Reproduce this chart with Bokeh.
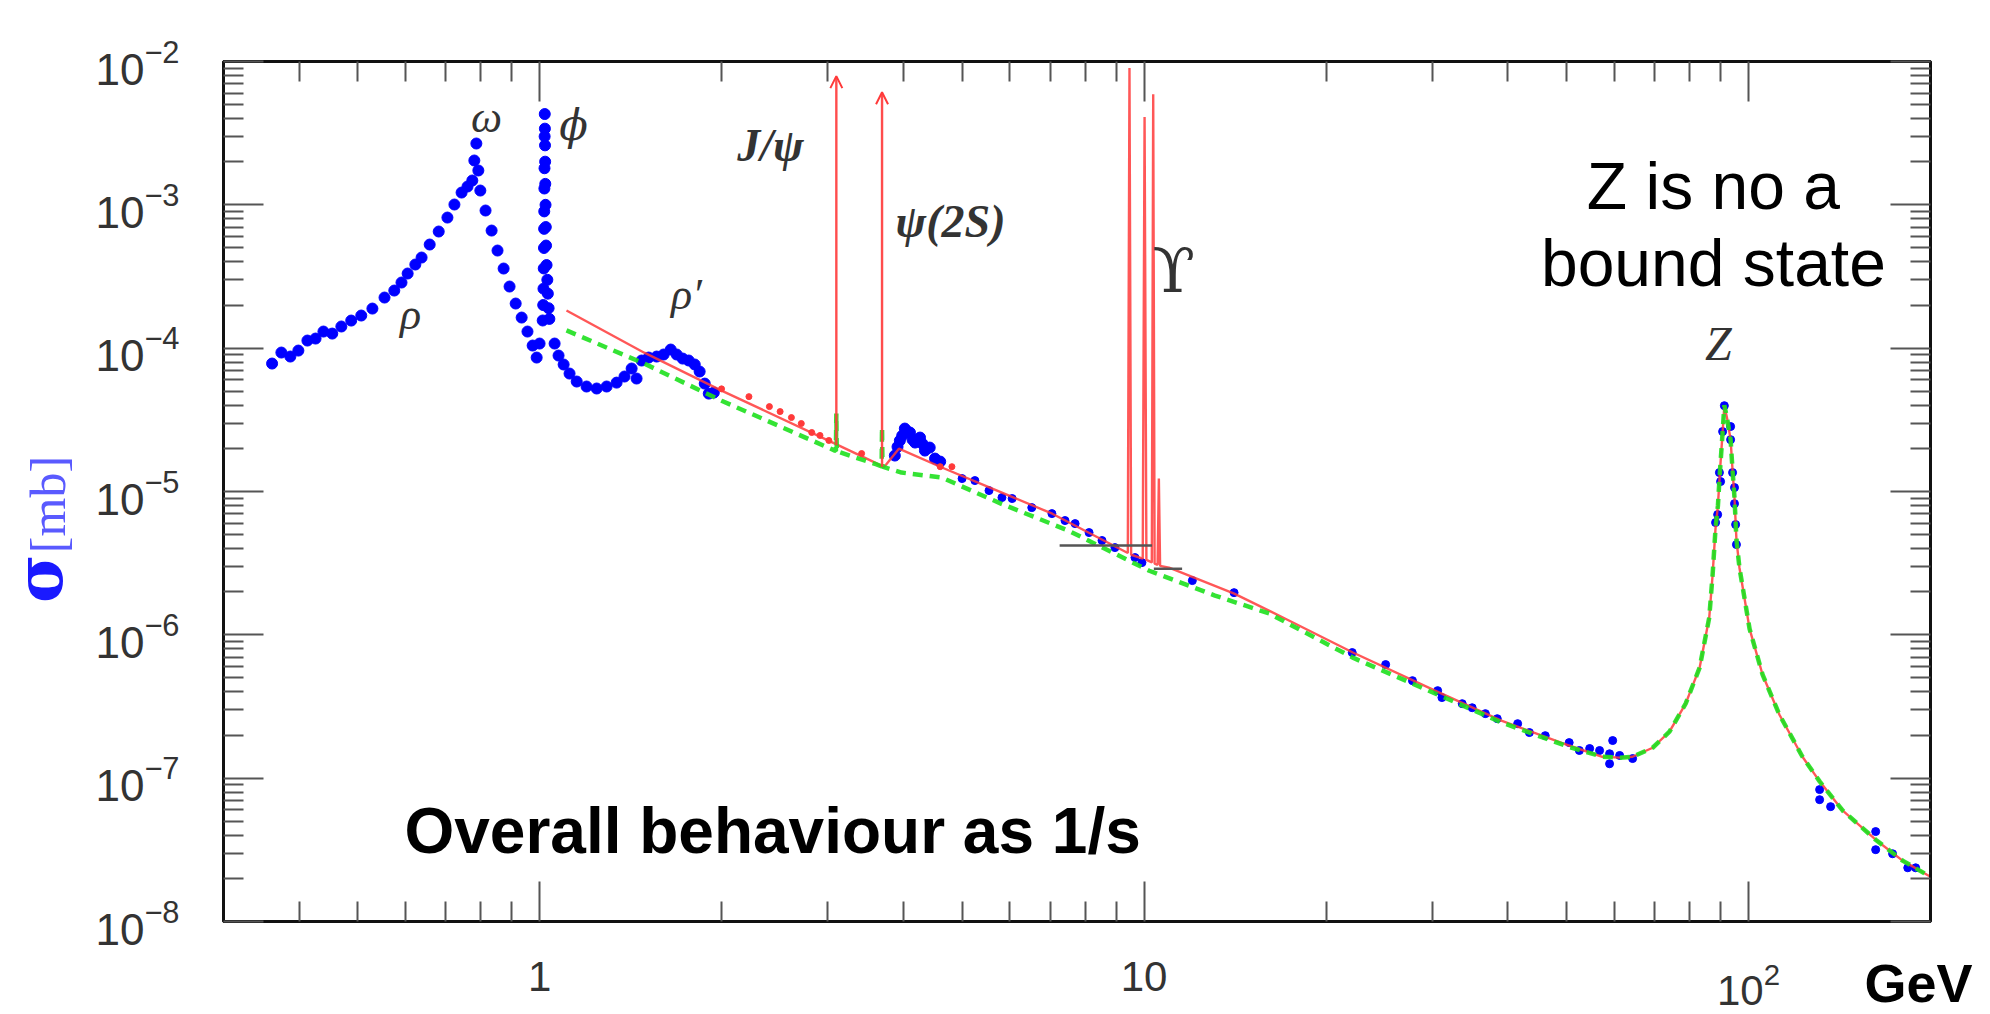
import math
from bokeh.plotting import figure
from bokeh.models import (LogAxis, FixedTicker, LogTickFormatter, CustomJSTickFormatter,
                          Label, Arrow, OpenHead, ColumnDataSource, Range1d)
from bokeh.embed import file_html
from bokeh.resources import INLINE

# ---------------- data (E in GeV, sigma in mb) ----------------
# measured points, low-mass region (rho / omega / phi / rho')
blue_low_E = [0.361, 0.374, 0.387, 0.399, 0.413, 0.426, 0.439, 0.454, 0.470, 0.488,
              0.507, 0.529, 0.554, 0.575, 0.591, 0.605, 0.623, 0.638, 0.658, 0.681,
              0.704, 0.723, 0.743, 0.760, 0.774, 0.780, 0.786, 0.792, 0.798, 0.814,
              0.833, 0.852, 0.872, 0.892, 0.913, 0.934, 0.955, 0.974, 0.989, 1.000,
              1.012, 1.014, 1.015, 1.016, 1.017, 1.0175, 1.018, 1.0185, 1.019, 1.0195,
              1.020, 1.0205, 1.021, 1.0215, 1.022, 1.023, 1.024, 1.025, 1.027, 1.030,
              1.032, 1.035, 1.038, 1.059, 1.075, 1.096, 1.121, 1.152, 1.196, 1.243,
              1.291, 1.341, 1.382, 1.420, 1.447, 1.475, 1.515, 1.562, 1.604, 1.648,
              1.686, 1.725, 1.765, 1.806, 1.840, 1.876, 1.905, 1.942]
blue_low_sig = [7.81e-5, 9.32e-5, 8.74e-5, 9.62e-5, 1.130e-4, 1.167e-4, 1.306e-4, 1.264e-4, 1.416e-4, 1.558e-4,
                1.689e-4, 1.889e-4, 2.255e-4, 2.523e-4, 2.870e-4, 3.317e-4, 3.833e-4, 4.288e-4, 5.284e-4, 6.513e-4,
                8.151e-4, 1.005e-3, 1.218e-3, 1.342e-3, 1.478e-3, 2.038e-3, 2.678e-3, 1.736e-3, 1.258e-3, 9.127e-4,
                6.615e-4, 4.799e-4, 3.594e-4, 2.691e-4, 2.048e-4, 1.635e-4, 1.306e-4, 1.043e-4, 8.60e-5, 1.077e-4,
                1.56e-4, 2.0e-4, 2.6e-4, 3.6e-4, 5.0e-4, 6.8e-4, 9.0e-4, 1.3e-3, 1.8e-3, 3.0e-3,
                4.3e-3, 3.4e-3, 2.6e-3, 2.0e-3, 1.4e-3, 1.0e-3, 7.0e-4, 5.2e-4, 3.8e-4, 3.0e-4,
                2.4e-4, 1.9e-4, 1.6e-4, 1.077e-4, 8.88e-5, 7.69e-5, 6.65e-5, 5.85e-5, 5.40e-5, 5.23e-5,
                5.40e-5, 5.75e-5, 6.34e-5, 7.21e-5, 6.14e-5, 8.20e-5, 8.60e-5, 8.74e-5, 9.03e-5, 9.78e-5,
                9.03e-5, 8.46e-5, 8.20e-5, 7.69e-5, 6.87e-5, 5.66e-5, 4.82e-5, 4.90e-5]

# measured points, open-charm region
blue_charm_E = [3.87, 3.91, 3.945, 3.98, 4.02, 4.06, 4.10, 4.14, 4.18, 4.22, 4.26, 4.30, 4.34, 4.42, 4.51, 4.60]
blue_charm_sig = [1.781e-5, 2.05e-5, 2.266e-5, 2.45e-5, 2.748e-5, 2.62e-5, 2.577e-5, 2.30e-5, 2.195e-5, 2.25e-5,
                  2.378e-5, 2.15e-5, 1.930e-5, 2.025e-5, 1.697e-5, 1.617e-5]

# measured points, continuum 5-65 GeV
blue_high_E = [5.0, 5.25, 5.54, 5.82, 6.05, 6.52, 7.04, 7.40, 7.69, 8.11, 8.52, 8.95, 9.66, 9.92,
               12.02, 14.09, 22.1, 25.1, 27.8, 30.6, 31.1, 33.6, 34.9, 36.7, 38.4, 41.5, 43.4, 46.1,
               50.5, 52.5, 54.6, 56.7, 58.9, 59.6, 58.9, 61.2, 64.3]
blue_high_sig = [1.231e-5, 1.192e-5, 1.015e-5, 9.07e-6, 8.93e-6, 7.72e-6, 7.01e-6, 6.27e-6, 5.97e-6, 5.17e-6,
                 4.55e-6, 4.06e-6, 3.46e-6, 3.19e-6, 2.39e-6, 1.97e-6, 7.52e-7, 6.20e-7, 4.79e-7, 4.08e-7,
                 3.65e-7, 3.31e-7, 3.10e-7, 2.82e-7, 2.60e-7, 2.40e-7, 2.08e-7, 1.98e-7, 1.77e-7, 1.56e-7,
                 1.61e-7, 1.56e-7, 1.48e-7, 1.83e-7, 1.26e-7, 1.44e-7, 1.37e-7]

# measured points, Z region
blue_z_E = [88.2, 88.9, 89.5, 89.9, 90.6, 91.2, 93.4, 93.4, 94.1, 94.8, 94.8, 95.2, 95.5,
            131.1, 131.1, 136.7, 162.3, 162.3, 173.1, 183.4, 189.0]
blue_z_sig = [6.07e-6, 6.9e-6, 1.355e-5, 1.173e-5, 2.62e-5, 3.97e-5, 2.84e-5, 2.30e-5, 1.355e-5, 1.065e-5,
              8.23e-6, 5.88e-6, 4.26e-6, 8.32e-8, 7.08e-8, 6.33e-8, 4.24e-8, 3.17e-8, 2.97e-8, 2.37e-8, 2.37e-8]

# red points 2-5 GeV
red_dot_E = [2.0, 2.22, 2.40, 2.50, 2.61, 2.71, 2.82, 2.91, 3.01, 3.41, 4.60, 4.81]
red_dot_sig = [5.2e-5, 4.59e-5, 3.91e-5, 3.61e-5, 3.28e-5, 2.98e-5, 2.58e-5, 2.46e-5, 2.27e-5, 1.84e-5, 1.49e-5, 1.49e-5]

# Z line shape (shared by both curves)
z_E = [57.3, 61.2, 64.3, 69.4, 74.0, 78.7, 83.0, 86.1, 87.2, 88.2, 89.0, 89.6, 90.6, 91.2, 92.2,
       93.4, 94.1, 94.8, 95.5, 96.6, 100.4, 105.5, 112.5, 122.8, 131.1, 143.2, 162.3, 179.8, 200.0]
z_sig = [1.41e-7, 1.39e-7, 1.41e-7, 1.63e-7, 2.11e-7, 3.31e-7, 5.9e-7, 1.32e-6, 2.6e-6, 5.6e-6,
         8.0e-6, 1.3e-5, 2.6e-5, 4.0e-5, 3.2e-5, 2.3e-5, 1.4e-5, 9.0e-6, 4.6e-6, 2.94e-6,
         1.10e-6, 5.27e-7, 2.77e-7, 1.41e-7, 9.5e-8, 5.93e-8, 3.72e-8, 2.66e-8, 2.05e-8]

# red solid curve below the Z (with Upsilon spikes)
red_low_E = [1.108, 1.49, 2.0, 3.08, 3.59, 3.71, 3.93, 4.63, 7.05, 9.40, 9.46, 9.52, 9.95, 10.02, 10.09,
             10.30, 10.355, 10.41, 10.53, 10.58, 10.63, 11.0, 14.1, 17.1, 22.2, 30.3, 39.0, 50.5]
red_low_sig = [1.83e-4, 9.3e-5, 5.06e-5, 2.16e-5, 1.59e-5, 1.47e-5, 1.99e-5, 1.47e-5, 7.0e-6, 3.72e-6,
               9.0e-3, 3.62e-6, 3.40e-6, 4.1e-3, 3.33e-6, 3.20e-6, 5.9e-3, 3.14e-6, 3.08e-6, 1.23e-5,
               3.03e-6, 2.94e-6, 1.94e-6, 1.30e-6, 7.5e-7, 4.08e-7, 2.52e-7, 1.69e-7]

# green dashed curve below the Z
green_low_E = [1.108, 1.49, 2.0, 3.08, 3.092, 3.097, 3.102, 3.60, 3.680, 3.686, 3.692, 3.97, 4.63,
               5.81, 7.5, 10.2, 13.1, 16.1, 22.2, 30.3, 39.0, 50.5]
green_low_sig = [1.33e-4, 7.8e-5, 4.3e-5, 1.93e-5, 1.92e-5, 3.5e-5, 1.91e-5, 1.55e-5, 1.50e-5, 2.8e-5,
                 1.49e-5, 1.355e-5, 1.25e-5, 8.2e-6, 5.33e-6, 2.8e-6, 1.88e-6, 1.41e-6, 6.9e-7, 3.9e-7,
                 2.45e-7, 1.65e-7]

# J/psi and psi(2S) arrows
res_E = [3.097, 3.686]
res_base = [2.1e-5, 1.49e-5]
res_peak = [7.9e-3, 6.1e-3]

# grey horizontal marks near the Upsilon
seg_E0 = [7.25, 10.38]
seg_E1 = [10.31, 11.56]
seg_sig = [4.20e-6, 2.89e-6]

# axis ticks
x_major = [1, 10, 100]
x_minor = [m * 10.0 ** e for e in (-1, 0, 1, 2) for m in range(2, 10) if 0.3 <= m * 10.0 ** e <= 200]
y_major = [10.0 ** e for e in range(-8, -1)]
y_minor = [m * 10.0 ** e for e in range(-8, -2) for m in range(2, 10)]

RED = "#ff3a3a"
GREEN = "#1ee01e"
BLUE = "#0000ff"
INK = "#333333"

p = figure(width=1990, height=1014, x_axis_type="log", y_axis_type="log",
           x_range=Range1d(0.3, 200), y_range=Range1d(1e-8, 1e-2),
           output_backend="svg", toolbar_location=None,
           min_border_left=223, min_border_right=60, min_border_top=61, min_border_bottom=93,
           background_fill_color="white", border_fill_color="white",
           outline_line_color="#111111", outline_line_width=3)
p.grid.visible = False


def style_axis(ax, major, minor, size="42px"):
    ax.ticker = FixedTicker(ticks=major, minor_ticks=minor)
    ax.major_tick_in = 40
    ax.major_tick_out = 0
    ax.minor_tick_in = 20
    ax.minor_tick_out = 0
    ax.major_tick_line_color = "#555555"
    ax.major_tick_line_width = 2
    ax.minor_tick_line_color = "#555555"
    ax.minor_tick_line_width = 2
    ax.axis_line_color = "#111111"
    ax.axis_line_width = 3
    ax.major_label_text_font = "Liberation Sans"
    ax.major_label_text_font_size = size
    ax.major_label_text_color = INK


xb = p.xaxis[0]
style_axis(xb, x_major, x_minor)
xb.formatter = LogTickFormatter(min_exponent=2)
xb.major_label_standoff = 40

yl = p.yaxis[0]
style_axis(yl, y_major, y_minor, size="44px")
yl.formatter = LogTickFormatter()
yl.major_label_standoff = 44

xt = LogAxis()
style_axis(xt, x_major, x_minor)
xt.formatter = CustomJSTickFormatter(code="return ''")
xt.major_label_text_font_size = "1px"
xt.major_label_standoff = 0
p.add_layout(xt, "above")

yr = LogAxis()
style_axis(yr, y_major, y_minor)
yr.formatter = CustomJSTickFormatter(code="return ''")
yr.major_label_text_font_size = "1px"
yr.major_label_standoff = 0
p.add_layout(yr, "right")

# data points
p.scatter(blue_low_E, blue_low_sig, size=11, color=BLUE)
p.scatter(blue_charm_E, blue_charm_sig, size=11, color=BLUE)
p.scatter(blue_high_E, blue_high_sig, size=8, color=BLUE)
p.scatter(blue_z_E, blue_z_sig, size=8, color=BLUE)

# curves
p.line(red_low_E + z_E, red_low_sig + z_sig, line_color=RED, line_width=2.4, line_alpha=0.85)
p.scatter(red_dot_E, red_dot_sig, size=6, color=RED)
p.line(green_low_E + z_E, green_low_sig + z_sig, line_color=GREEN, line_width=4.5,
       line_dash="10 7", line_alpha=0.9)

arrow_src = ColumnDataSource(dict(x0=res_E, y0=res_base, x1=res_E, y1=res_peak))
p.add_layout(Arrow(end=OpenHead(size=12, line_color=RED, line_width=2), source=arrow_src,
                   x_start="x0", y_start="y0", x_end="x1", y_end="y1",
                   line_color=RED, line_width=2.4, line_alpha=0.9))

p.segment(x0=seg_E0, y0=seg_sig, x1=seg_E1, y1=seg_sig, line_color="#555555", line_width=2.5)


def add_label(x, y, text, size, font="Liberation Serif", style="italic", color=INK,
              align="center", angle=0.0, place="center"):
    lab = Label(x=x, y=y, text=text, text_font=font, text_font_size=size,
                text_font_style=style, text_color=color, text_align=align,
                text_baseline="alphabetic", angle=angle)
    p.add_layout(lab, place)


# resonance names
add_label(0.6115, 1.73e-4, "ρ", "44px")
add_label(0.8169, 4.1e-3, "ω", "44px")
add_label(1.1378, 3.6e-3, "ϕ", "42px", font="DejaVu Serif")
add_label(1.750, 2.38e-4, "ρ′", "44px")
add_label(2.410, 2.6e-3, "J/ψ", "46px", style="bold italic")
add_label(3.880, 7.7e-4, "ψ(2S)", "46px", style="bold italic", align="left")
add_label(10.325, 3.5e-4, "ϒ", "62px", font="DejaVu Serif", style="normal", align="left")
add_label(89.18, 1.07e-4, "Z", "48px")

# comments
add_label(87.48, 1.364e-3, "Z is no a", "66px", font="Liberation Sans", style="normal", color="#000000")
add_label(87.48, 3.90e-4, "bound state", "66px", font="Liberation Sans", style="normal", color="#000000")
add_label(0.5976, 4.31e-8, "Overall behaviour as 1/s", "64px", font="Liberation Sans", style="bold",
          color="#000000", align="left")

# texts outside the frame: placed in the side panels so that they are not clipped
add_label(155.5, 3.75e-9, "GeV", "54px", font="Liberation Sans", style="bold", color="#000000",
          align="left", place="above")
add_label(0.1485, 2.47e-6, "σ", "66px", font="DejaVu Serif", style="bold", color="#1a1aff",
          angle=math.pi / 2, place="left")
add_label(0.1540, 8.11e-6, "[mb]", "50px", font="Liberation Serif", style="normal", color="#5a5aff",
          angle=math.pi / 2, place="right")

open("out.html", "w").write(file_html(p, INLINE))
